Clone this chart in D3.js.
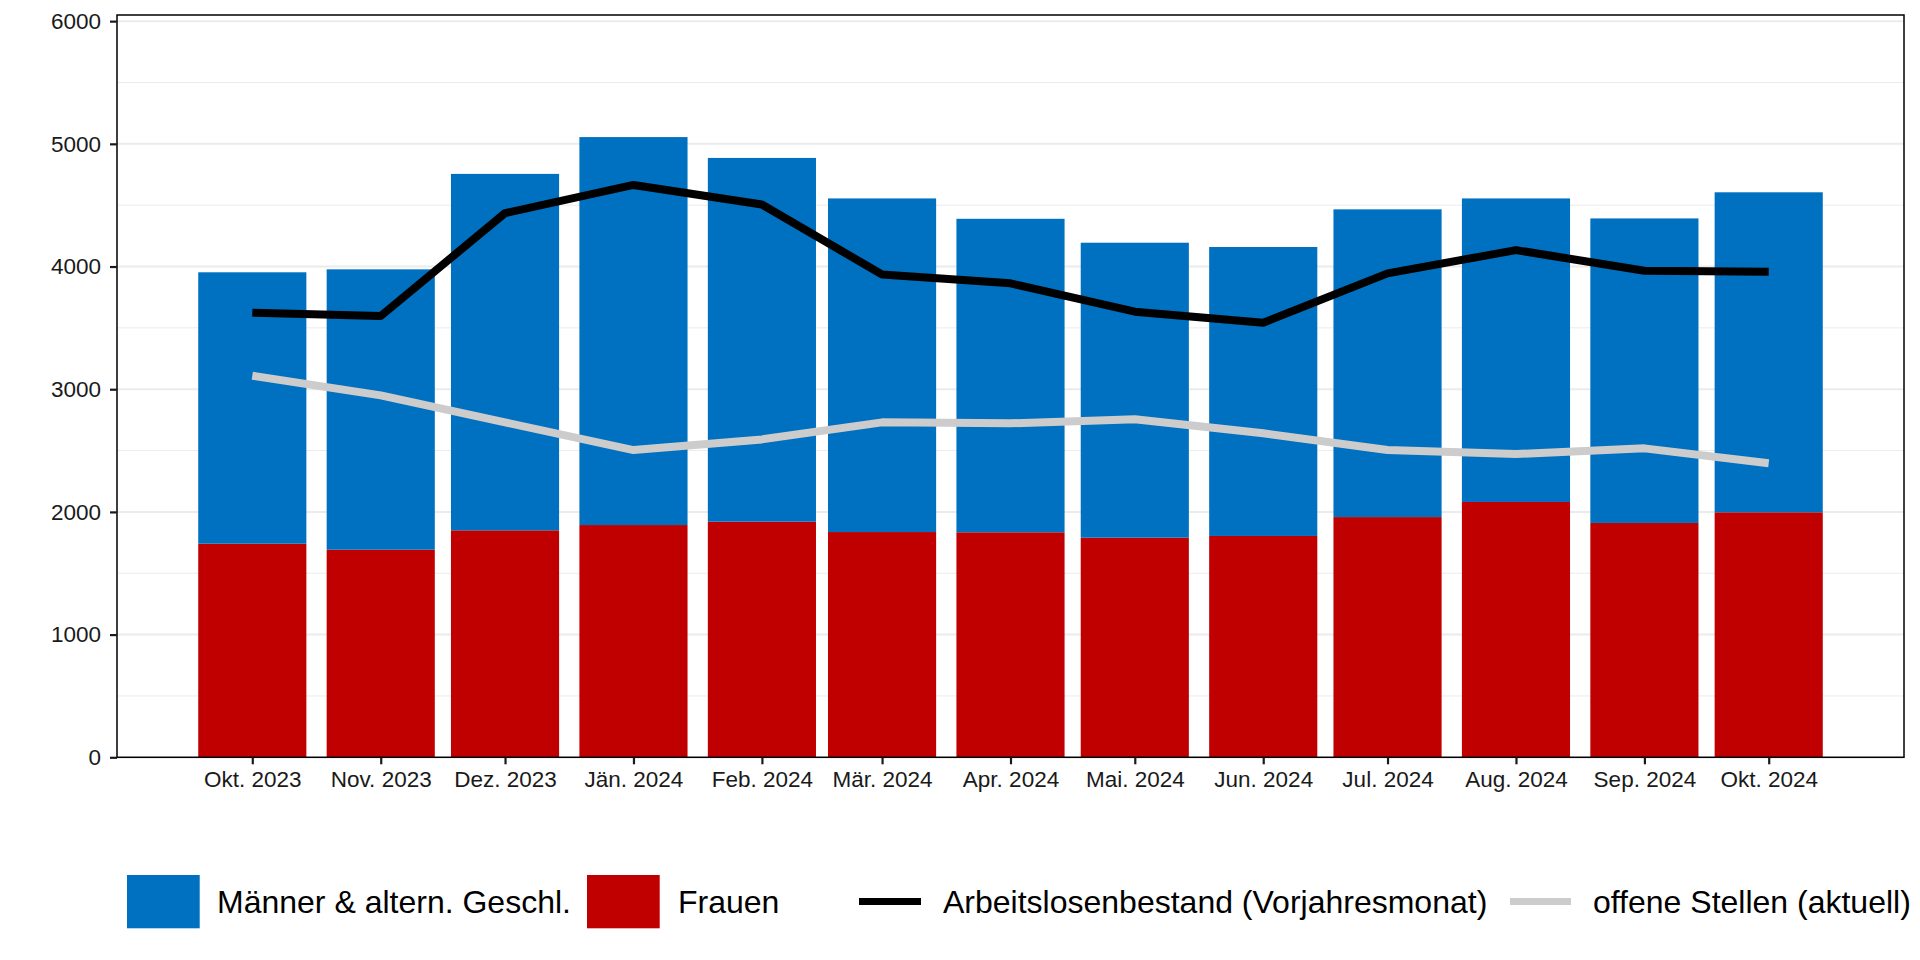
<!DOCTYPE html>
<html><head><meta charset="utf-8">
<script src="https://cdn.jsdelivr.net/npm/d3@7"></script>
<style>
body{margin:0;background:#fff}
text{font-family:"Liberation Sans",Arial,Helvetica,sans-serif}
</style></head>
<body><svg id="c" width="1920" height="960"></svg>
<script>
// ---- data ----
const months = ["2023-10-01","2023-11-01","2023-12-01","2024-01-01","2024-02-01","2024-03-01","2024-04-01","2024-05-01","2024-06-01","2024-07-01","2024-08-01","2024-09-01","2024-10-01"];
const tickLabels = ["Okt. 2023","Nov. 2023","Dez. 2023","Jän. 2024","Feb. 2024","Mär. 2024","Apr. 2024","Mai. 2024","Jun. 2024","Jul. 2024","Aug. 2024","Sep. 2024","Okt. 2024"];
const frauen  = [1741,1692,1850,1893,1920,1836,1834,1790,1804,1958,2081,1910,1997];
const maenner = [2212,2285,2905,3162,2965,2719,2555,2404,2355,2508,2474,2482,2608];
const vorjahr = [3623,3597,4435,4665,4505,3935,3863,3632,3542,3944,4134,3966,3958];
const offeneStellen = [3110,2950,2730,2504,2591,2730,2722,2755,2641,2504,2472,2518,2396];
const yTicks = [0,1000,2000,3000,4000,5000,6000];
const yMinor = [500,1500,2500,3500,4500,5500];
const legendLabels = ["Männer & altern. Geschl.","Frauen","Arbeitslosenbestand (Vorjahresmonat)","offene Stellen (aktuell)"];

// ---- setup ----
const svg = d3.select("#c");
const parse = d3.utcParse("%Y-%m-%d");
const dates = months.map(parse);
const DAY = 864e5;
const resDays = d3.min(d3.pairs(dates), ([a,b]) => (b - a) / DAY);
const barDays = 0.9 * resDays;
const lo = +dates[0] - barDays / 2 * DAY, hi = +dates[dates.length - 1] + barDays / 2 * DAY;
const pad = 0.05 * (hi - lo);
const L = 117, R = 1904, T = 15, B = 757.3;
const x = d3.scaleUtc().domain([new Date(lo - pad), new Date(hi + pad)]).range([L, R]);
const y = d3.scaleLinear().domain([0, 6050]).range([B, T]);
const COL = {m: "#0070C0", f: "#C00000", line: "#000000", grey: "#cccccc", grid: "#ebebeb"};

// grid
svg.append("g").selectAll("line").data(yMinor).join("line")
  .attr("x1", L).attr("x2", R).attr("y1", d => y(d)).attr("y2", d => y(d))
  .attr("stroke", COL.grid).attr("stroke-width", 1);
svg.append("g").selectAll("line").data(yTicks).join("line")
  .attr("x1", L).attr("x2", R).attr("y1", d => y(d)).attr("y2", d => y(d))
  .attr("stroke", COL.grid).attr("stroke-width", 2);

// bars
const bx0 = d => x(new Date(+d - barDays / 2 * DAY));
const bx1 = d => x(new Date(+d + barDays / 2 * DAY));
const gb = svg.append("g");
gb.selectAll("rect.f").data(dates).join("rect").attr("class", "f")
  .attr("x", d => bx0(d)).attr("width", d => bx1(d) - bx0(d))
  .attr("y", (d, i) => y(frauen[i])).attr("height", (d, i) => y(0) - y(frauen[i]))
  .attr("fill", COL.f);
gb.selectAll("rect.m").data(dates).join("rect").attr("class", "m")
  .attr("x", d => bx0(d)).attr("width", d => bx1(d) - bx0(d))
  .attr("y", (d, i) => y(frauen[i] + maenner[i])).attr("height", (d, i) => y(frauen[i]) - y(frauen[i] + maenner[i]))
  .attr("fill", COL.m);

// lines
const lineGen = arr => d3.line().x((d, i) => x(dates[i])).y((d, i) => y(arr[i]))(arr);
svg.append("path").attr("d", lineGen(vorjahr)).attr("fill", "none")
  .attr("stroke", COL.line).attr("stroke-width", 8).attr("stroke-linejoin", "round").attr("stroke-linecap", "butt");
svg.append("path").attr("d", lineGen(offeneStellen)).attr("fill", "none")
  .attr("stroke", COL.grey).attr("stroke-width", 8).attr("stroke-linejoin", "round").attr("stroke-linecap", "butt");

// panel border
svg.append("rect").attr("x", L).attr("y", T).attr("width", R - L).attr("height", B - T)
  .attr("fill", "none").attr("stroke", "#000").attr("stroke-width", 1.5);

// axes
const ay = svg.append("g").attr("transform", `translate(${L},0)`)
  .call(d3.axisLeft(y).tickValues(yTicks).tickFormat(d3.format("d")).tickSize(7).tickPadding(9));
const ax = svg.append("g").attr("transform", `translate(0,${B})`)
  .call(d3.axisBottom(x).tickValues(dates).tickFormat((d, i) => tickLabels[i]).tickSize(7).tickPadding(7));
[ay, ax].forEach(g => {
  g.select(".domain").remove();
  g.selectAll(".tick line").attr("stroke", "#1a1a1a").attr("stroke-width", 2.2);
  g.selectAll(".tick text").attr("fill", "#1a1a1a").style("font-size", "22.5px")
    .style("font-family", '"Liberation Sans",Arial,sans-serif');
});

// legend
const lg = svg.append("g").style("font-size", "32px").attr("fill", "#000");
const keyW = 72.7, keyTop = 875, keyH = 53.3, midY = 901.5, base = 913;
const items = [
  {type: "rect", color: COL.m, kx: 127, tx: 217},
  {type: "rect", color: COL.f, kx: 587, tx: 678},
  {type: "line", color: COL.line, kx: 859, kw: 62, tx: 943},
  {type: "line", color: COL.grey, kx: 1510, kw: 61, tx: 1593}
];
items.forEach((it, i) => {
  if (it.type === "rect") {
    lg.append("rect").attr("x", it.kx).attr("y", keyTop).attr("width", keyW).attr("height", keyH).attr("fill", it.color);
  } else {
    lg.append("line").attr("x1", it.kx).attr("x2", it.kx + it.kw).attr("y1", midY).attr("y2", midY)
      .attr("stroke", it.color).attr("stroke-width", 7);
  }
  lg.append("text").attr("x", it.tx).attr("y", base).text(legendLabels[i]);
});
</script></body></html>
